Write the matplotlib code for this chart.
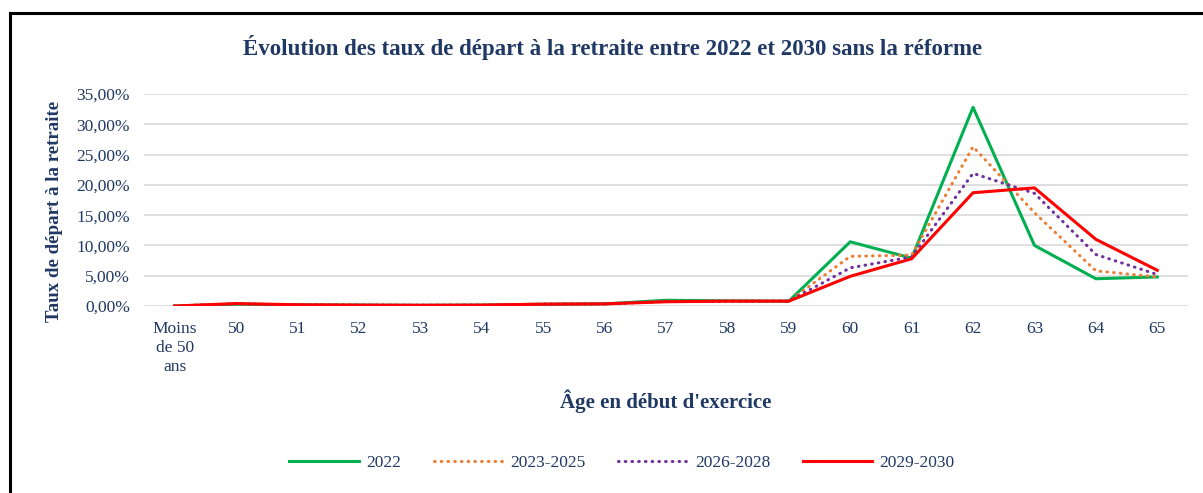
import numpy as np
import matplotlib.pyplot as plt
from matplotlib.lines import Line2D

ages = ['Moins\nde 50\nans', '50', '51', '52', '53', '54', '55', '56', '57',
        '58', '59', '60', '61', '62', '63', '64', '65']

taux_2022 = [0.0, 0.30, 0.20, 0.15, 0.12, 0.15, 0.30, 0.35, 0.95, 0.85, 0.80,
             10.6, 7.9, 32.8, 10.0, 4.5, 4.8]
taux_2023_2025 = [0.0, 0.35, 0.20, 0.15, 0.12, 0.15, 0.30, 0.35, 0.80, 0.80, 0.80,
                  8.2, 8.4, 26.3, 15.4, 5.8, 4.8]
taux_2026_2028 = [0.0, 0.35, 0.20, 0.15, 0.12, 0.15, 0.30, 0.35, 0.75, 0.80, 0.80,
                  6.3, 8.1, 21.9, 18.6, 8.5, 5.2]
taux_2029_2030 = [0.0, 0.40, 0.20, 0.15, 0.12, 0.15, 0.30, 0.35, 0.70, 0.80, 0.80,
                  4.9, 7.8, 18.7, 19.5, 11.0, 5.9]

navy = '#1F3864'
plt.rcParams['font.family'] = ['Liberation Serif', 'DejaVu Serif']

fig = plt.figure(figsize=(12.03, 4.93), dpi=100)
ax = fig.add_axes([144/1203, 1-306/493, (1188-144)/1203, (306-94)/493])

x = np.arange(len(ages))
ax.plot(x, taux_2022, color='#00B050', lw=2.2, label='2022')
ax.plot(x, taux_2023_2025, color='#ED7D31', lw=2.2, ls=(0, (0.2, 2.0)),
        dash_capstyle='round', label='2023-2025')
ax.plot(x, taux_2026_2028, color='#7030A0', lw=2.2, ls=(0, (0.2, 2.0)),
        dash_capstyle='round', label='2026-2028')
ax.plot(x, taux_2029_2030, color='#FF0000', lw=2.2, label='2029-2030')

ax.set_xlim(-0.5, len(ages)-0.5)
ax.set_ylim(0, 35)
ax.set_yticks(np.arange(0, 36, 5))
ax.set_yticklabels(['{:.2f}%'.format(v).replace('.', ',') for v in range(0, 36, 5)])
ax.set_xticks(x)
ax.set_xticklabels(ages, va='top', linespacing=1.25)
ax.grid(axis='y', color='#D9D9D9', lw=1.2)
ax.set_axisbelow(True)
for s in ax.spines.values():
    s.set_visible(False)
ax.tick_params(length=0, colors=navy, labelsize=12.5)
ax.tick_params(axis='x', pad=11)
ax.tick_params(axis='y', pad=10)

fig.text(613/1203, 1-47/493,
         "Évolution des taux de départ à la retraite entre 2022 et 2030 sans la réforme",
         color=navy, fontsize=16.5, fontweight='bold', ha='center', va='center')
ax.set_ylabel('Taux de départ à la retraite', color=navy, fontsize=13.6,
              fontweight='bold')
ax.yaxis.set_label_coords((63-144)/1044, (306-211)/212)
ax.set_xlabel("Âge en début d'exercice", color=navy, fontsize=15,
              fontweight='bold', labelpad=10)

leg = fig.legend(loc='center', bbox_to_anchor=(622/1203, 1-463/493), ncol=4,
                 frameon=False, fontsize=12.5, handlelength=4.0, columnspacing=1.9,
                 handletextpad=0.4)
for t in leg.get_texts():
    t.set_color(navy)

# cadre
fig.add_artist(Line2D([10/1203, 10/1203], [0, 1-13/493], color='black', lw=2.2))
fig.add_artist(Line2D([10/1203, 1], [1-13/493, 1-13/493], color='black', lw=2.2))

fig.savefig('out.png', dpi=100)
